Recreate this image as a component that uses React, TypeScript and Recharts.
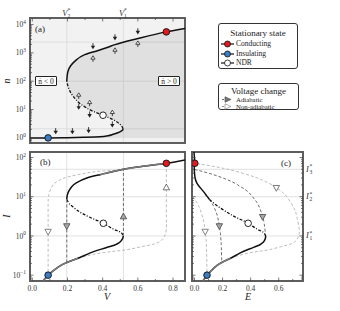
import React from "react";
import {
  ComposedChart,
  Line,
  Area,
  Scatter,
  XAxis,
  YAxis,
  CartesianGrid,
  ReferenceArea,
} from "recharts";

const FONT = '"Liberation Serif", "DejaVu Serif", serif';
const TEXT = "#333";
const FRAME = "#5e5e5e";
const GRID = "#d9d9d9";
const RED = "#e4191f";
const BLUE = "#3d7cc0";
const ADIA = "#6f6f6f";
const NONADIA = "#bdbdbd";
const PATH = "#7a7a7a";
const GAP = 3;

// thresholds
const V_STAR = [0.196, 0.518]; // V2*, V1*
const V_STAR_SUB = ["2", "1"];
const N_STAR = [2.1, 100, 2400]; // n1*, n2*, n3*
const I_STAR = [1, 10, 50]; // I1*, I2*, I3*
const STAR_SUB = ["1", "2", "3"];

const V_DOMAIN = [-0.013, 0.868];
const E_DOMAIN = [-0.018, 0.773];
const N_DOMAIN = [0.66, 17000];
const I_DOMAIN = [0.071, 138];

const V_TICKS = [0, 0.1, 0.2, 0.3, 0.4, 0.5, 0.6, 0.7, 0.8];
const E_TICKS = [0, 0.1, 0.2, 0.3, 0.4, 0.5, 0.6, 0.7];
const N_DECADES = [1, 10, 100, 1000, 10000];
const I_DECADES = [0.1, 1, 10, 100];

// minor log ticks between the decades
const withMinor = (decades: number[], dom: number[]) => {
  const out: number[] = [];
  [decades[0] / 10, ...decades].forEach((d) => {
    for (let m = 1; m <= 9; m++) {
      const v = m * d;
      if (v >= dom[0] && v <= dom[1]) out.push(v);
    }
  });
  return out;
};
const N_TICKS = withMinor(N_DECADES, N_DOMAIN);
const I_TICKS = withMinor(I_DECADES, I_DOMAIN);

const vn = (rows: number[][]) => rows.map(([V, n]) => ({ V, n }));
const vi = (rows: number[][]) => rows.map(([V, I]) => ({ V, I }));
const ei = (rows: number[][]) => rows.map(([E, I]) => ({ E, I }));

// (a) stationary curve, n increasing
const lowerA = vn([[-0.015, 0.99], [0.09, 1.0], [0.2, 1.02], [0.3, 1.05], [0.385, 1.09], [0.43, 1.18], [0.46, 1.35], [0.49, 1.55], [0.505, 1.72], [0.514, 1.9], [0.516, 2.1]]);
const middleA = vn([[0.516, 2.1], [0.51, 2.5], [0.5, 2.95], [0.46, 4.4], [0.402, 6.3], [0.345, 8.7], [0.279, 15], [0.232, 29.5], [0.203, 66], [0.196, 100]]);
const upperA = vn([[0.196, 100], [0.198, 150], [0.203, 225], [0.218, 350], [0.241, 500], [0.298, 870], [0.374, 1220], [0.43, 1580], [0.47, 1950], [0.6, 3200], [0.762, 5500], [0.868, 7300]]);
const curveA = [...lowerA, ...middleA.slice(1), ...upperA.slice(1)];
const conductingA = vn([[0.762, 5500]]);
const insulatingA = vn([[0.09, 1.0]]);
const ndrA = vn([[0.402, 6.3]]);
const ndotDownA = vn([[0.345, 1700], [0.47, 3500], [0.6, 5700], [0.264, 12.5], [0.326, 6.6], [0.455, 2.95], [0.133, 1.7], [0.228, 1.7], [0.32, 1.85]]);
const ndotUpA = vn([[0.345, 630], [0.47, 1200], [0.6, 2100], [0.264, 31], [0.326, 17], [0.455, 7.6]]);

// (b) I–V
const lowerB = vi([[0.061, 0.071], [0.09, 0.1], [0.12, 0.13], [0.165, 0.18], [0.196, 0.21], [0.26, 0.27], [0.33, 0.37], [0.43, 0.52], [0.48, 0.62], [0.505, 0.75], [0.515, 0.9], [0.518, 1.0]]);
const middleB = vi([[0.196, 8.5], [0.205, 7.2], [0.233, 5.4], [0.31, 3.25], [0.404, 2.1], [0.46, 1.5], [0.51, 1.15], [0.518, 1.0]]);
const upperB = vi([[0.196, 8.5], [0.198, 10.5], [0.206, 13.5], [0.224, 18], [0.25, 22.5], [0.31, 30], [0.385, 36.5], [0.43, 41], [0.518, 50], [0.62, 59], [0.762, 71], [0.868, 86]]);
const pathLowB = vi([[0.061, 0.071], [0.09, 0.1], [0.12, 0.13], [0.165, 0.18], [0.196, 0.21], [0.26, 0.27]]);
const pathHighB = vi([[0.385, 36.5], [0.43, 41], [0.518, 50], [0.62, 59], [0.762, 71]]);
const adiaUpB = vi([[0.518, 1.0], [0.518, 50]]);
const adiaDownB = vi([[0.196, 8.5], [0.196, 0.21]]);
const nonAdia1B = vi([[0.5, 48], [0.43, 46], [0.355, 43.5], [0.28, 38], [0.203, 32], [0.15, 26], [0.118, 20], [0.1, 14], [0.092, 10], [0.09, 7], [0.09, 3], [0.09, 1], [0.09, 0.1]]);
const nonAdia2B = vi([[0.26, 0.27], [0.35, 0.34], [0.45, 0.4], [0.53, 0.44], [0.62, 0.53], [0.69, 0.62], [0.73, 0.75], [0.752, 1.0], [0.762, 1.5], [0.762, 3], [0.762, 10], [0.762, 30], [0.762, 71]]);
const conductingB = vi([[0.762, 71]]);
const insulatingB = vi([[0.09, 0.1]]);
const ndrB = vi([[0.404, 2.1]]);
const adiaUpMarkB = vi([[0.518, 3.1]]);
const adiaDownMarkB = vi([[0.196, 1.8]]);
const nonAdiaDownMarkB = vi([[0.09, 1.3]]);
const nonAdiaUpMarkB = vi([[0.762, 17]]);

// (c) I–E
const lowerC = ei([[0.06, 0.071], [0.089, 0.1], [0.119, 0.13], [0.163, 0.18], [0.194, 0.21], [0.257, 0.27], [0.326, 0.37], [0.425, 0.52], [0.473, 0.62], [0.497, 0.75], [0.506, 0.9], [0.507, 1.0]]);
const middleC = ei([[0.107, 8.5], [0.129, 7.2], [0.176, 5.4], [0.276, 3.25], [0.382, 2.1], [0.444, 1.5], [0.498, 1.15], [0.507, 1.0]]);
const upperC = ei([[0.107, 8.5], [0.087, 10.5], [0.064, 13.5], [0.035, 18], [0.016, 22.5], [0.004, 30], [0.0, 40], [-0.002, 55], [0.002, 71], [0.0, 95], [-0.004, 138]]);
const pathLowC = ei([[0.06, 0.071], [0.089, 0.1], [0.119, 0.13], [0.163, 0.18], [0.194, 0.21], [0.257, 0.27]]);
const adiaUpC = ei([[0.0, 49.5], [0.098, 40], [0.203, 30], [0.308, 20], [0.413, 10], [0.466, 5], [0.485, 3.1], [0.497, 2], [0.507, 1.0]]);
const adiaDownC = ei([[0.107, 8.5], [0.143, 5], [0.165, 3], [0.177, 1.8], [0.186, 1], [0.191, 0.5], [0.194, 0.21]]);
const nonAdia1C = ei([[-0.013, 10], [0.017, 7], [0.037, 5], [0.058, 3], [0.069, 2], [0.076, 1.3], [0.08, 1], [0.085, 0.5], [0.089, 0.1]]);
const nonAdia2C = ei([[0.257, 0.27], [0.346, 0.34], [0.446, 0.4], [0.525, 0.44], [0.614, 0.53], [0.683, 0.62], [0.722, 0.75], [0.742, 1.0], [0.746, 1.5], [0.73, 3], [0.71, 5], [0.657, 10], [0.583, 17], [0.447, 30], [0.237, 50], [0.08, 64], [0.002, 71]]);
const conductingC = ei([[0.002, 71]]);
const insulatingC = ei([[0.089, 0.1]]);
const ndrC = ei([[0.382, 2.1]]);
const adiaUpMarkC = ei([[0.485, 3.1]]);
const adiaDownMarkC = ei([[0.177, 1.8]]);
const nonAdiaDownMarkC = ei([[0.076, 1.3]]);
const nonAdiaUpMarkC = ei([[0.583, 17]]);

const isDecade = (v: number) => Math.abs(Math.log10(v) - Math.round(Math.log10(v))) < 1e-6;
const isFifth = (v: number) => Math.abs(v * 5 - Math.round(v * 5)) < 1e-6;

function StarText({ x, y, sym, sub, w }: any) {
  return (
    <g fontFamily={FONT} fill={TEXT}>
      <text x={x} y={y} fontSize={8.5} fontStyle="italic" fill={TEXT}>{sym}</text>
      <text x={x + w} y={y - 3.4} fontSize={5.5} fill={TEXT}>*</text>
      <text x={x + w} y={y + 2} fontSize={5.5} fill={TEXT}>{sub}</text>
    </g>
  );
}

function AxisTick(props: any) {
  const { x = 0, y = 0, payload, index = 0, side, kind, labels, starFrom, star } = props;
  const v: number = payload?.value;
  if (starFrom !== undefined && index >= starFrom) return star(index - starFrom, x, y);
  const major = kind === "log" ? isDecade(v) : isFifth(v);
  const len = major ? 3.5 : 2;
  let x1 = x, x2 = x, y1 = y, y2 = y;
  if (side === "left") { x1 = x + GAP; x2 = x1 + len; }
  if (side === "right") { x1 = x - GAP; x2 = x1 - len; }
  if (side === "bottom") { y1 = y - GAP; y2 = y1 - len; }
  if (side === "top") { y1 = y + GAP; y2 = y1 + len; }
  let label = null;
  if (labels && major) {
    if (kind === "log") {
      const e = Math.round(Math.log10(v));
      label = (
        <text x={x - 1} y={y + 2.6} textAnchor="end" fontSize={7.5} fontFamily={FONT} fill={TEXT}>
          10<tspan dy={-3.3} fontSize={5.3}>{e < 0 ? "\u2212" + Math.abs(e) : e}</tspan>
        </text>
      );
    } else {
      label = (
        <text x={x} y={y + 6.5} textAnchor="middle" fontSize={7.5} fontFamily={FONT} fill={TEXT}>
          {v.toFixed(1)}
        </text>
      );
    }
  }
  return (
    <g>
      <line x1={x1} x2={x2} y1={y1} y2={y2} stroke="#444" strokeWidth={0.7} />
      {label}
    </g>
  );
}

const Dot = ({ cx, cy, fill }: any) => (
  <circle cx={cx} cy={cy} r={3.3} fill={fill} stroke="#111" strokeWidth={0.9} />
);
const DownArrow = ({ cx, cy }: any) => (
  <g>
    <line x1={cx} x2={cx} y1={cy - 3.2} y2={cy} stroke="#222" strokeWidth={0.9} />
    <polygon points={`${cx - 2.2},${cy - 0.6} ${cx + 2.2},${cy - 0.6} ${cx},${cy + 3}`} fill="#222" />
  </g>
);
const UpArrow = ({ cx, cy }: any) => (
  <g>
    <line x1={cx} x2={cx} y1={cy + 3.2} y2={cy + 0.6} stroke="#222" strokeWidth={0.9} />
    <polygon points={`${cx - 2.1},${cy + 0.6} ${cx + 2.1},${cy + 0.6} ${cx},${cy - 2.8}`} fill="#fff" stroke="#222" strokeWidth={0.8} />
  </g>
);
const Tri = ({ cx, cy, up, fill, stroke }: any) => {
  const s = up ? -1 : 1;
  return (
    <polygon
      points={`${cx - 3.2},${cy - 2.2 * s} ${cx + 3.2},${cy - 2.2 * s} ${cx},${cy + 3.6 * s}`}
      fill={fill}
      stroke={stroke}
      strokeWidth={0.8}
    />
  );
};

const noAnim = { isAnimationActive: false };
const lineBase = { dot: false, activeDot: false, isAnimationActive: false };

function PanelA() {
  return (
    <ComposedChart layout="vertical" width={215} height={150} margin={{ top: 4, right: 0, bottom: 7, left: 0 }}>
      <CartesianGrid fill="#f2f2f2" stroke={GRID} strokeWidth={0.8} verticalValues={V_STAR} horizontalValues={N_STAR} />
      <XAxis
        xAxisId={0} orientation="top" type="number" dataKey="V" domain={V_DOMAIN} allowDataOverflow
        ticks={[...V_TICKS, ...V_STAR]} interval={0} height={14} tickSize={0} tickMargin={GAP}
        axisLine={false} tickLine={false}
        tick={<AxisTick side="top" kind="lin" starFrom={V_TICKS.length}
          star={(i: number, x: number, y: number) => <StarText x={x - 4.5} y={y + 0.5} sym="V" sub={V_STAR_SUB[i]} w={5.2} />} />}
      />
      <XAxis
        xAxisId="m" orientation="bottom" type="number" domain={V_DOMAIN} allowDataOverflow
        ticks={V_TICKS} interval={0} height={0} tickSize={0} tickMargin={GAP}
        axisLine={false} tickLine={false} tick={<AxisTick side="bottom" kind="lin" />}
      />
      <YAxis
        yAxisId={0} type="number" dataKey="n" scale="log" domain={N_DOMAIN} allowDataOverflow reversed
        ticks={N_TICKS} interval={0} width={30} tickSize={0} tickMargin={GAP}
        axisLine={false} tickLine={false} tick={<AxisTick side="left" kind="log" labels />}
      />
      <YAxis
        yAxisId="r" orientation="right" type="number" scale="log" domain={N_DOMAIN} allowDataOverflow reversed
        ticks={[...N_TICKS, ...N_STAR]} interval={0} width={30} tickSize={0} tickMargin={GAP}
        axisLine={false} tickLine={false}
        tick={<AxisTick side="right" kind="log" starFrom={N_TICKS.length}
          star={(i: number, x: number, y: number) => <StarText x={x - 1.5} y={y + 2} sym="n" sub={STAR_SUB[i]} w={4.3} />} />}
      />
      <Area data={curveA} dataKey="V" type="monotone" baseValue={V_DOMAIN[1]} stroke="none" fill="#000" fillOpacity={0.075} {...noAnim} />
      <Line data={lowerA} dataKey="V" type="monotone" stroke="#111" strokeWidth={1.5} {...lineBase} />
      <Line data={middleA} dataKey="V" type="monotone" stroke="#111" strokeWidth={1.3} strokeDasharray="3 1.6 1 1.6" {...lineBase} />
      <Line data={upperA} dataKey="V" type="monotone" stroke="#111" strokeWidth={1.5} {...lineBase} />
      <Scatter data={ndotDownA} shape={DownArrow} {...noAnim} />
      <Scatter data={ndotUpA} shape={UpArrow} {...noAnim} />
      <Scatter data={conductingA} shape={(p: any) => <Dot {...p} fill={RED} />} {...noAnim} />
      <Scatter data={insulatingA} shape={(p: any) => <Dot {...p} fill={BLUE} />} {...noAnim} />
      <Scatter data={ndrA} shape={(p: any) => <Dot {...p} fill="#fff" />} {...noAnim} />
      <ReferenceArea x1={V_DOMAIN[0]} x2={V_DOMAIN[1]} y1={N_DOMAIN[0]} y2={N_DOMAIN[1]} fill="none" stroke={FRAME} strokeWidth={2} ifOverflow="visible" />
    </ComposedChart>
  );
}

function PanelB() {
  return (
    <ComposedChart width={192} height={165} margin={{ top: 7, right: 7, bottom: 0, left: 0 }}>
      <CartesianGrid stroke={GRID} strokeWidth={0.8} verticalValues={V_STAR} horizontalValues={I_STAR} />
      <XAxis
        xAxisId={0} type="number" dataKey="V" domain={V_DOMAIN} allowDataOverflow ticks={V_TICKS} interval={0}
        height={29} tickSize={0} tickMargin={GAP} axisLine={false} tickLine={false}
        tick={<AxisTick side="bottom" kind="lin" labels />}
      />
      <XAxis
        xAxisId="t" orientation="top" type="number" domain={V_DOMAIN} allowDataOverflow ticks={V_TICKS} interval={0}
        height={0} tickSize={0} tickMargin={GAP} axisLine={false} tickLine={false} tick={<AxisTick side="top" kind="lin" />}
      />
      <YAxis
        yAxisId={0} type="number" dataKey="I" scale="log" domain={I_DOMAIN} allowDataOverflow ticks={I_TICKS} interval={0}
        width={30} tickSize={0} tickMargin={GAP} axisLine={false} tickLine={false}
        tick={<AxisTick side="left" kind="log" labels />}
      />
      <YAxis
        yAxisId="r" orientation="right" type="number" scale="log" domain={I_DOMAIN} allowDataOverflow ticks={I_TICKS} interval={0}
        width={0} tickSize={0} tickMargin={GAP} axisLine={false} tickLine={false} tick={<AxisTick side="right" kind="log" />}
      />
      <Line data={nonAdia1B} dataKey="I" type="natural" stroke={NONADIA} strokeWidth={1} strokeDasharray="3 2" {...lineBase} />
      <Line data={nonAdia2B} dataKey="I" type="natural" stroke={NONADIA} strokeWidth={1} strokeDasharray="3 2" {...lineBase} />
      <Line data={lowerB} dataKey="I" type="monotone" stroke="#111" strokeWidth={1.5} {...lineBase} />
      <Line data={middleB} dataKey="I" type="monotone" stroke="#111" strokeWidth={1.3} strokeDasharray="3 1.6 1 1.6" {...lineBase} />
      <Line data={upperB} dataKey="I" type="natural" stroke="#111" strokeWidth={1.5} {...lineBase} />
      <Line data={pathLowB} dataKey="I" type="monotone" stroke={PATH} strokeWidth={1.6} {...lineBase} />
      <Line data={pathHighB} dataKey="I" type="monotone" stroke={PATH} strokeWidth={1.6} {...lineBase} />
      <Line data={adiaUpB} dataKey="I" type="linear" stroke={ADIA} strokeWidth={1} strokeDasharray="3 2" {...lineBase} />
      <Line data={adiaDownB} dataKey="I" type="linear" stroke={ADIA} strokeWidth={1} strokeDasharray="3 2" {...lineBase} />
      <Scatter data={adiaUpMarkB} shape={(p: any) => <Tri {...p} up fill="#a8a8a8" stroke="#444" />} {...noAnim} />
      <Scatter data={adiaDownMarkB} shape={(p: any) => <Tri {...p} fill="#a8a8a8" stroke="#444" />} {...noAnim} />
      <Scatter data={nonAdiaDownMarkB} shape={(p: any) => <Tri {...p} fill="#fff" stroke="#666" />} {...noAnim} />
      <Scatter data={nonAdiaUpMarkB} shape={(p: any) => <Tri {...p} up fill="#fff" stroke="#555" />} {...noAnim} />
      <Scatter data={conductingB} shape={(p: any) => <Dot {...p} fill={RED} />} {...noAnim} />
      <Scatter data={insulatingB} shape={(p: any) => <Dot {...p} fill={BLUE} />} {...noAnim} />
      <Scatter data={ndrB} shape={(p: any) => <Dot {...p} fill="#fff" />} {...noAnim} />
      <ReferenceArea x1={V_DOMAIN[0]} x2={V_DOMAIN[1]} y1={I_DOMAIN[0]} y2={I_DOMAIN[1]} fill="none" stroke={FRAME} strokeWidth={2} ifOverflow="visible" />
    </ComposedChart>
  );
}

function PanelC() {
  return (
    <ComposedChart width={154} height={165} margin={{ top: 7, right: 0, bottom: 0, left: 0 }}>
      <CartesianGrid stroke={GRID} strokeWidth={0.8} vertical={false} horizontalValues={I_STAR} yAxisId="r" />
      <XAxis
        xAxisId={0} type="number" dataKey="E" domain={E_DOMAIN} allowDataOverflow ticks={E_TICKS} interval={0}
        height={29} tickSize={0} tickMargin={GAP} axisLine={false} tickLine={false}
        tick={<AxisTick side="bottom" kind="lin" labels />}
      />
      <XAxis
        xAxisId="t" orientation="top" type="number" domain={E_DOMAIN} allowDataOverflow ticks={E_TICKS} interval={0}
        height={0} tickSize={0} tickMargin={GAP} axisLine={false} tickLine={false} tick={<AxisTick side="top" kind="lin" />}
      />
      <YAxis
        yAxisId={0} type="number" dataKey="I" scale="log" domain={I_DOMAIN} allowDataOverflow ticks={I_TICKS} interval={0}
        width={6} tickSize={0} tickMargin={GAP} axisLine={false} tickLine={false}
        tick={<AxisTick side="left" kind="log" />}
      />
      <YAxis
        yAxisId="r" orientation="right" type="number" scale="log" domain={I_DOMAIN} allowDataOverflow
        ticks={[...I_TICKS, ...I_STAR]} interval={0} width={37} tickSize={0} tickMargin={GAP}
        axisLine={false} tickLine={false}
        tick={<AxisTick side="right" kind="log" starFrom={I_TICKS.length}
          star={(i: number, x: number, y: number) => <StarText x={x} y={y + 2.5} sym="I" sub={STAR_SUB[i]} w={3.6} />} />}
      />
      <Line data={nonAdia1C} dataKey="I" type="natural" stroke={NONADIA} strokeWidth={1} strokeDasharray="3 2" {...lineBase} />
      <Line data={nonAdia2C} dataKey="I" type="natural" stroke={NONADIA} strokeWidth={1} strokeDasharray="3 2" {...lineBase} />
      <Line data={adiaUpC} dataKey="I" type="monotone" stroke={ADIA} strokeWidth={1} strokeDasharray="3 2" {...lineBase} />
      <Line data={adiaDownC} dataKey="I" type="monotone" stroke={ADIA} strokeWidth={1} strokeDasharray="3 2" {...lineBase} />
      <Line data={lowerC} dataKey="I" type="monotone" stroke="#111" strokeWidth={1.5} {...lineBase} />
      <Line data={middleC} dataKey="I" type="monotone" stroke="#111" strokeWidth={1.3} strokeDasharray="3 1.6 1 1.6" {...lineBase} />
      <Line data={upperC} dataKey="I" type="natural" stroke="#111" strokeWidth={1.5} {...lineBase} />
      <Line data={pathLowC} dataKey="I" type="monotone" stroke={PATH} strokeWidth={1.6} {...lineBase} />
      <Scatter data={adiaUpMarkC} shape={(p: any) => <Tri {...p} fill="#a8a8a8" stroke="#444" />} {...noAnim} />
      <Scatter data={adiaDownMarkC} shape={(p: any) => <Tri {...p} fill="#a8a8a8" stroke="#444" />} {...noAnim} />
      <Scatter data={nonAdiaDownMarkC} shape={(p: any) => <Tri {...p} fill="#fff" stroke="#666" />} {...noAnim} />
      <Scatter data={nonAdiaUpMarkC} shape={(p: any) => <Tri {...p} fill="#fff" stroke="#555" />} {...noAnim} />
      <Scatter data={conductingC} shape={(p: any) => <Dot {...p} fill={RED} />} {...noAnim} />
      <Scatter data={insulatingC} shape={(p: any) => <Dot {...p} fill={BLUE} />} {...noAnim} />
      <Scatter data={ndrC} shape={(p: any) => <Dot {...p} fill="#fff" />} {...noAnim} />
      <ReferenceArea x1={E_DOMAIN[0]} x2={E_DOMAIN[1]} y1={I_DOMAIN[0]} y2={I_DOMAIN[1]} fill="none" stroke={FRAME} strokeWidth={2} ifOverflow="visible" />
    </ComposedChart>
  );
}

const abs = (left: number, top: number, extra: any = {}) => ({ position: "absolute" as const, left, top, ...extra });

function Legends() {
  const box = { border: "1px solid #333", borderRadius: 3, boxSizing: "border-box" as const, background: "#fff", color: "#222" };
  const row = { fontSize: 7.5, lineHeight: "8px", whiteSpace: "nowrap" as const };
  const smallRow = { fontSize: 6.8, lineHeight: "7px", whiteSpace: "nowrap" as const };
  const dotMarker = (fill: string) => (
    <svg width={13} height={8}>
      <line x1={0} x2={13} y1={4} y2={4} stroke="#111" strokeWidth={1.2} />
      <circle cx={6.5} cy={4} r={3} fill={fill} stroke="#111" strokeWidth={0.8} />
    </svg>
  );
  const triMarker = (fill: string, stroke: string) => (
    <svg width={11} height={7}>
      <line x1={0} x2={8} y1={3.5} y2={3.5} stroke={stroke} strokeWidth={0.9} strokeDasharray="2 1" />
      <polygon points="3,0.8 9,3.5 3,6.2" fill={fill} stroke={stroke} strokeWidth={0.7} />
    </svg>
  );
  return (
    <>
      <div style={abs(218, 23, { ...box, width: 80, height: 46 })}>
        <div style={abs(0, 4, { width: 78, textAlign: "center", fontSize: 9, lineHeight: "10px" })}>Stationary state</div>
        {[
          ["Conducting", RED, 15.5],
          ["Insulating", BLUE, 25.5],
          ["NDR", "#fff", 35],
        ].map(([t, c, y]: any) => (
          <div key={t} style={abs(2, y, { ...row, display: "flex", alignItems: "center", gap: 2 })}>
            {dotMarker(c)}<span>{t}</span>
          </div>
        ))}
      </div>
      <div style={abs(218, 83, { ...box, width: 81, height: 27 })}>
        <div style={abs(0, 1.5, { width: 79, textAlign: "center", fontSize: 9, lineHeight: "10px" })}>Voltage change</div>
        <div style={abs(3, 12, { ...smallRow, display: "flex", alignItems: "center", gap: 3 })}>
          {triMarker("#777", "#555")}<span>Adiabatic</span>
        </div>
        <div style={abs(3, 19, { ...smallRow, display: "flex", alignItems: "center", gap: 3 })}>
          {triMarker("#fff", "#888")}<span>Non-adiabatic</span>
        </div>
      </div>
    </>
  );
}

function Texts() {
  const tag = { fontSize: 9, lineHeight: "10px", color: "#222" };
  const ndot = {
    border: "0.8px solid #222", background: "#fff", fontSize: 7.5, lineHeight: "9px", color: "#222",
    width: 22, height: 10, boxSizing: "border-box" as const, textAlign: "center" as const, borderRadius: 1,
  };
  const title = { fontSize: 10, fontStyle: "italic", lineHeight: "10px", color: "#222", transform: "translate(-50%,-50%)" };
  return (
    <>
      <div style={abs(35, 24, tag)}>(a)</div>
      <div style={abs(40, 157, tag)}>(b)</div>
      <div style={abs(281, 158, tag)}>(c)</div>
      <div style={abs(35, 76, ndot)}>ṅ &lt; 0</div>
      <div style={abs(158, 76, ndot)}>ṅ &gt; 0</div>
      <div style={abs(7, 81, { ...title, transform: "translate(-50%,-50%) rotate(-90deg)" })}>n</div>
      <div style={abs(7, 216, { ...title, transform: "translate(-50%,-50%) rotate(-90deg)" })}>I</div>
      <div style={abs(107, 297, title)}>V</div>
      <div style={abs(248, 297, title)}>E</div>
    </>
  );
}

export default function App() {
  return (
    <div style={{ position: "absolute", left: 0, top: 0, width: 340, height: 311, background: "#fff", fontFamily: FONT, color: "#222" }}>
      <div style={abs(0, 0)}><PanelA /></div>
      <div style={abs(0, 145)}><PanelB /></div>
      <div style={abs(186, 145)}><PanelC /></div>
      <Legends />
      <Texts />
    </div>
  );
}
